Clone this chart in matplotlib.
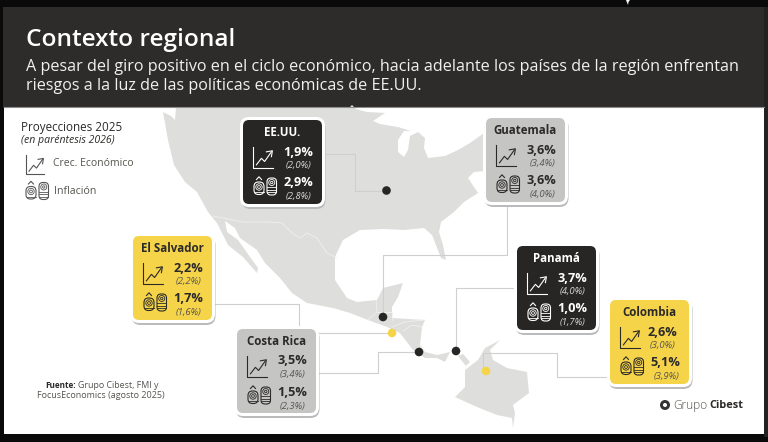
import matplotlib
matplotlib.use("Agg")
import matplotlib.pyplot as plt
from matplotlib.patches import FancyBboxPatch, Rectangle, Polygon, Circle

plt.rcParams['font.family'] = ['Open Sans', 'Noto Sans', 'DejaVu Sans']

# datos de las tarjetas
paises = ["EE.UU.", "Guatemala", "El Salvador", "Costa Rica", "Panamá", "Colombia"]
crec_2025 = ["1,9%", "3,6%", "2,2%", "3,5%", "3,7%", "2,6%"]
crec_2026 = ["(2,0%)", "(3,4%)", "(2,2%)", "(3,4%)", "(4,0%)", "(3,0%)"]
infl_2025 = ["2,9%", "3,6%", "1,7%", "1,5%", "1,0%", "5,1%"]
infl_2026 = ["(2,8%)", "(4,0%)", "(1,6%)", "(2,3%)", "(1,7%)", "(3,9%)"]

titulo = "Contexto regional"
subtitulo = ["A pesar del giro positivo en el ciclo económico, hacia adelante los países de la región enfrentan",
             "riesgos a la luz de las políticas económicas de EE.UU."]

# contorno del mapa, en pixeles de la imagen
norteamerica = [(163,112),(171,116),(175,120),(176,107),(350,107),(352,105),(356,109),(367,112),(385,113),
                (373,121),(380,124),(398,127),(411,131),(404,131),(398,140),(398,152),(404,157),(408,150),
                (410,136),(418,132),(425,138),(424,148),(428,158),(445,156),(458,150),(470,143),(484,133),
                (495,130),(495,170),(474,172),(468,178),(474,187),(478,193),(464,202),(454,212),(441,222),
                (439,232),(443,245),(446,260),(441,258),(436,245),(432,235),(424,228),(404,230),(384,229),
                (360,230),(343,240),(335,257),(335,280),(347,298),(357,302),(377,300),(383,288),(403,283),
                (398,297),(392,307),(392,318),(425,320),(422,327),(420,345),(425,352),(437,355),(450,352),
                (445,362),(437,358),(425,358),(413,350),(400,333),(387,327),(368,320),(350,313),(333,308),
                (307,303),(292,293),(280,278),(265,263),(257,250),(240,238),(235,228),(225,221),(227,232),
                (238,240),(250,257),(258,268),(257,273),(243,257),(228,245),(217,223),(208,212),(197,192),
                (185,182),(174,165),(168,140)]
colombia = [(500,340),(485,348),(478,360),(465,370),(465,387),(455,397),(477,407),(497,415),(512,418),(513,428),
            (515,413),(513,405),(529,393),(527,372),(507,368),(493,360),(490,350)]
darien = [(458,356),(463,354),(470,362),(466,366)]
frontera_mx = [(213,216),(243,222),(268,222),(282,223),(292,233),(300,238),(307,233),(317,238),(327,253),(337,258)]
fronteras_ca = [[(376,300),(377,312),(368,320)], [(377,312),(392,312),(392,320)], [(392,327),(404,322),(425,320)],
                [(403,331),(412,325),(422,327)], [(420,345),(425,352)]]

fig = plt.figure(figsize=(7.68, 4.42), dpi=100, facecolor="#0a0a0a")
ax = fig.add_axes([0, 0, 1, 1])
ax.set_xlim(0, 768)
ax.set_ylim(442, 0)
ax.axis("off")

OSCURO = "#272624"
GRIS = "#c5c5c4"
AMARILLO = "#f6d44a"
MAPA = "#dededd"
LINEA = "#cfcfcf"

# fondo
ax.add_patch(Rectangle((3, 7), 761, 101, fc="#2d2c2a", ec="none"))
ax.add_patch(Rectangle((4, 107), 760, 327, fc="white", ec="none"))
ax.add_patch(Rectangle((764, 7), 4, 430, fc="#222222", ec="none"))
ax.plot([4, 764], [107, 107], color="#8d8d8d", lw=0.8)
ax.add_patch(Polygon([(626,0),(630,0),(628.5,2),(628,5)], fc="white", ec="none"))

ax.text(26, 40, titulo, color="white", fontsize=17.6, fontweight="semibold", va="center")
ax.text(26, 67, subtitulo[0], color="#f0f0f0", fontsize=11.65, va="center")
ax.text(26, 85.5, subtitulo[1], color="#f0f0f0", fontsize=11.65, va="center")

# mapa
ax.add_patch(Polygon(norteamerica, fc=MAPA, ec="none", zorder=1))
ax.add_patch(Polygon(colombia, fc=MAPA, ec="none", zorder=1))
ax.add_patch(Polygon(darien, fc=MAPA, ec="none", zorder=1))
ax.plot(*zip(*frontera_mx), color="#f0f0f0", lw=0.6, zorder=2)
for f in fronteras_ca:
    ax.plot(*zip(*f), color="#f0f0f0", lw=0.6, zorder=2)

# lineas de cada pais hasta su punto
lineas = [[(325,154),(355,154),(355,191),(386,191)],
          [(507,205),(507,255),(383,255),(383,317)],
          [(214,304),(299,304),(299,333),(392,333)],
          [(318,373),(378,373),(378,352),(419,352)],
          [(515,288),(456,288),(456,351)],
          [(608,377),(557,377),(557,353),(483,353),(483,371)]]
for l in lineas:
    ax.plot(*zip(*l), color=LINEA, lw=0.8, zorder=2)

puntos = [(386.5,190.5,OSCURO), (383,317,OSCURO), (392,333,AMARILLO), (419,352,OSCURO), (456,351,OSCURO), (486,371,AMARILLO)]
for x, y, c in puntos:
    ax.add_patch(Circle((x, y), 4.3, fc=c, ec="none", zorder=3))


def icono_linea(x, y, w, h, color, lw=0.8, z=6):
    ax.plot([x, x, x + w], [y, y + h, y + h], color=color, lw=lw, zorder=z)
    ax.plot([x + .17*w, x + .42*w, x + .58*w, x + .92*w], [y + .85*h, y + .54*h, y + .69*h, y + .23*h],
            color=color, lw=lw, zorder=z)
    ax.plot([x + .67*w, x + .97*w, x + .92*w], [y + .23*h, y + .18*h, y + .46*h], color=color, lw=lw, zorder=z)


def icono_monedas(x, y, color, lw=0.6, z=6):
    # pila chica con su flecha
    cx = x + 5
    ax.plot([cx - 2.5, cx, cx + 2.5], [y + 3, y + .3, y + 3], color=color, lw=lw + .2, zorder=z)
    ax.add_patch(FancyBboxPatch((cx - 5, y + 5.5), 10, 12.5, boxstyle="round,pad=0,rounding_size=4.5",
                                fc="none", ec=color, lw=lw + .2, zorder=z))
    for r in [3.2, 1.4]:
        ax.add_patch(Circle((cx, y + 10.5), r, fc="none", ec=color, lw=lw, zorder=z))
    ax.plot([cx - 4.5, cx + 4.5], [y + 15.5, y + 15.5], color=color, lw=lw, zorder=z)
    # pila alta
    x2 = x + 13
    ax.add_patch(FancyBboxPatch((x2, y + 1.5), 9.5, 17, boxstyle="round,pad=0,rounding_size=4",
                                fc="none", ec=color, lw=lw + .2, zorder=z))
    cx2 = x2 + 4.75
    ax.add_patch(Circle((cx2, y + 6), 3, fc="none", ec=color, lw=lw, zorder=z))
    ax.add_patch(Circle((cx2, y + 6), 1.2, fc="none", ec=color, lw=lw, zorder=z))
    for dy in [10.5, 13, 15.5]:
        ax.plot([x2 + .3, x2 + 9.2], [y + dy, y + dy], color=color, lw=lw, zorder=z)


# tarjetas: esquina izquierda superior y colores
cajas = [(243,120,OSCURO), (486,118,GRIS), (133,236,AMARILLO), (237,329,GRIS), (517,246,OSCURO), (610,300,AMARILLO)]
W, H = 79, 84
for i, (x, y, c) in enumerate(cajas):
    tinta = "white" if c == OSCURO else "#2b2a28"
    suave = "#d8d8d8" if c == OSCURO else "#55544f"
    # en Colombia la primera fila esta un poco mas a la izquierda
    dx = -3 if paises[i] == "Colombia" else 0
    ax.add_patch(FancyBboxPatch((x - 1.5, y + 0), W + 5, H + 5, boxstyle="round,pad=0,rounding_size=9",
                                fc="#b9bbbd", ec="none", zorder=4))
    ax.add_patch(FancyBboxPatch((x - 3, y - 3), W + 6, H + 6, boxstyle="round,pad=0,rounding_size=9",
                                fc="white", ec="none", zorder=4.2))
    ax.add_patch(FancyBboxPatch((x, y), W, H, boxstyle="round,pad=0,rounding_size=6",
                                fc=c, ec="none", zorder=5))
    ax.text(x + 39.5, y + 12.5, paises[i], color=tinta, fontsize=8.3, fontweight="bold", ha="center", va="center", zorder=6)
    ax.text(x + 70 + dx, y + 32, crec_2025[i], color=tinta, fontsize=9.2, fontweight="bold", ha="right", va="center", zorder=6)
    ax.text(x + 69 + dx, y + 45.5, crec_2026[i], color=suave, fontsize=6.8, style="italic", ha="right", va="center", zorder=6)
    ax.text(x + 70, y + 63, infl_2025[i], color=tinta, fontsize=9.2, fontweight="bold", ha="right", va="center", zorder=6)
    ax.text(x + 69, y + 77, infl_2026[i], color=suave, fontsize=6.8, style="italic", ha="right", va="center", zorder=6)
    icono_linea(x + 10, y + 27, 20, 21, tinta)
    icono_monedas(x + 11, y + 56.5, tinta)

# leyenda
ax.text(21, 128, "Proyecciones 2025", color="#2b2a28", fontsize=8.4, fontweight="medium", va="center")
ax.text(21, 141, "(en paréntesis 2026)", color="#2b2a28", fontsize=7.6, style="italic", va="center")
icono_linea(26, 155, 18, 19, "#555555", z=3)
ax.text(53, 163, "Crec. Económico", color="#55544f", fontsize=7.5, va="center")
icono_monedas(26, 181, "#555555", z=3)
ax.text(54, 191, "Inflación", color="#55544f", fontsize=7.7, va="center")

# fuente
ax.text(45, 386, "Fuente:", color="#2b2a28", fontsize=5.9, fontweight="bold", va="center")
ax.text(77.5, 386, "Grupo Cibest, FMI y", color="#55544f", fontsize=6.4, va="center")
ax.text(37, 396, "FocusEconomics (agosto 2025)", color="#55544f", fontsize=6.45, va="center")

# logo
ax.add_patch(Circle((665, 405), 5, fc="#333333", ec="none", zorder=3))
ax.add_patch(Circle((665, 405), 2, fc="white", ec="none", zorder=3.1))
ax.text(673, 405, "Grupo", color="#55544f", fontsize=8.6, fontweight="light", va="center")
ax.text(709, 405, "Cibest", color="#2b2a28", fontsize=7.9, fontweight="bold", va="center")

fig.savefig("out.png", dpi=100, facecolor=fig.get_facecolor())
